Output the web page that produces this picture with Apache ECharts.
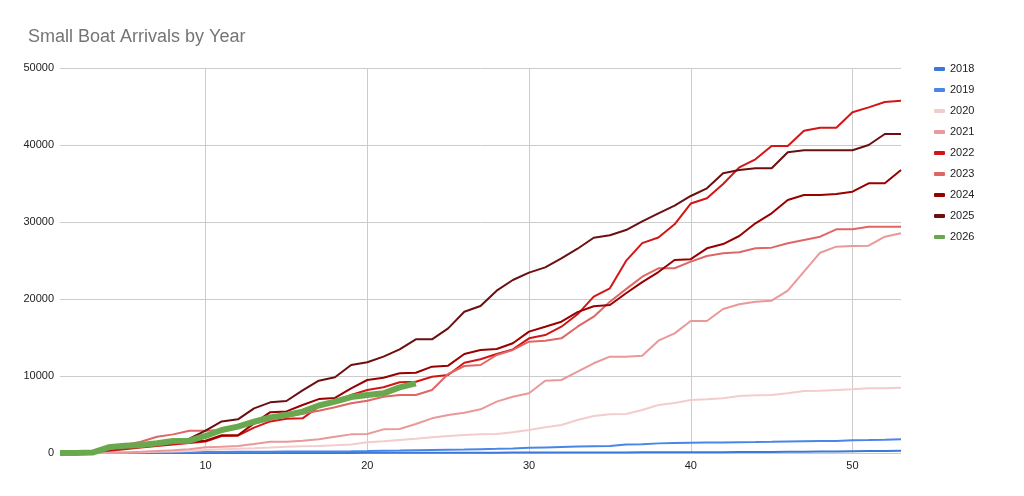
<!DOCTYPE html>
<html>
<head>
<meta charset="utf-8">
<title>Small Boat Arrivals by Year</title>
<script src="https://cdn.jsdelivr.net/npm/echarts@6/dist/echarts.min.js"></script>
<style>
    html, body { margin: 0; padding: 0; background: #fff; }
    #chart { width: 1024px; height: 496px; }
</style>
</head>
<body>
<div id="chart"></div>
<script>
// week numbers (x axis)
var weeks = [1, 2, 3, 4, 5, 6, 7, 8, 9, 10, 11, 12, 13, 14, 15, 16, 17, 18, 19, 20,
    21, 22, 23, 24, 25, 26, 27, 28, 29, 30, 31, 32, 33, 34, 35, 36, 37, 38, 39, 40,
    41, 42, 43, 44, 45, 46, 47, 48, 49, 50, 51, 52, 53];

// cumulative arrivals per year
var y2018 = [0, 0, 0, 0, 0, 0, 0, 0, 0, 0, 0, 0, 0, 10, 10, 10, 10, 15, 15, 20,
    20, 25, 25, 30, 30, 35, 40, 45, 50, 55, 60, 60, 65, 70, 75, 80, 85, 90, 95, 100,
    105, 110, 115, 120, 130, 150, 170, 190, 210, 230, 255, 275, 300];
var y2019 = [0, 0, 20, 30, 40, 50, 70, 80, 100, 120, 140, 150, 160, 170, 180, 190, 200, 210, 230, 260,
    300, 320, 360, 400, 430, 460, 500, 540, 600, 670, 730, 790, 830, 870, 900, 1100, 1150, 1250, 1300, 1330,
    1350, 1370, 1400, 1420, 1450, 1500, 1530, 1550, 1570, 1650, 1680, 1730, 1800];
var y2020 = [0, 0, 0, 20, 50, 100, 150, 200, 260, 380, 480, 550, 610, 700, 820, 870, 910, 1000, 1100, 1390,
    1520, 1690, 1860, 2040, 2210, 2340, 2420, 2470, 2690, 2990, 3330, 3640, 4290, 4810, 5020, 5060, 5580, 6230, 6500, 6880,
    6970, 7100, 7400, 7490, 7530, 7750, 8050, 8100, 8180, 8270, 8400, 8420, 8470];
var y2021 = [0, 0, 20, 50, 80, 150, 250, 350, 480, 740, 820, 910, 1170, 1470, 1470, 1600, 1780, 2120, 2420, 2470,
    3070, 3120, 3770, 4500, 4940, 5240, 5670, 6670, 7310, 7750, 9390, 9480, 10560, 11650, 12510, 12510, 12640, 14590, 15540, 17140,
    17140, 18700, 19310, 19650, 19780, 21080, 23550, 26010, 26800, 26880, 26930, 28090, 28530];
var y2022 = [0, 50, 150, 300, 500, 700, 900, 1100, 1300, 1500, 2200, 2250, 3300, 4100, 4450, 4500, 6000, 6700, 7530, 8180,
    8530, 9180, 9260, 9910, 10130, 11730, 12170, 12860, 13460, 14890, 15320, 16400, 18010, 20300, 21390, 24950, 27250, 27980, 29700, 32400,
    33080, 34940, 37100, 38140, 39870, 39870, 41860, 42250, 42250, 44250, 44890, 45580, 45750];
var y2023 = [0, 0, 100, 390, 1040, 1470, 2120, 2420, 2900, 2900, 3000, 3300, 3800, 4300, 4700, 5100, 5500, 5950, 6450, 6790,
    7310, 7530, 7530, 8180, 10260, 11300, 11430, 12730, 13380, 14460, 14590, 14890, 16400, 17700, 19650, 21280, 22900, 23980, 24000, 24850,
    25580, 25930, 26060, 26580, 26670, 27230, 27660, 28090, 29050, 29050, 29390, 29390, 29390];
var y2024 = [0, 0, 50, 400, 700, 900, 1100, 1300, 1450, 1600, 2300, 2300, 3850, 5300, 5400, 6230, 7000, 7150, 8400, 9480,
    9780, 10350, 10430, 11210, 11340, 12860, 13380, 13510, 14250, 15760, 16400, 17050, 18300, 19050, 19220, 20740, 22200, 23500, 25070, 25170,
    26580, 27140, 28180, 29830, 31130, 32860, 33510, 33510, 33640, 33940, 35030, 35030, 36750];
var y2025 = [0, 0, 50, 600, 900, 1100, 1300, 1600, 1850, 2900, 4100, 4370, 5800, 6580, 6750, 8130, 9390, 9830, 11430, 11780,
    12510, 13460, 14760, 14760, 16190, 18350, 19090, 21080, 22470, 23420, 24110, 25280, 26530, 27960, 28270, 28960, 30080, 31130, 32120, 33380,
    34370, 36320, 36750, 36970, 36970, 39050, 39310, 39310, 39310, 39310, 40000, 41430, 41430];
var y2026 = [0, 0, 50, 740, 950, 1040, 1260, 1560, 1600, 2210, 2990, 3420, 4070, 4630, 4940, 5370, 6170, 6670, 7270, 7530,
    7750, 8530, 9050];

var yearNames = ['2018', '2019', '2020', '2021', '2022', '2023', '2024', '2025', '2026'];
var yearData = [y2018, y2019, y2020, y2021, y2022, y2023, y2024, y2025, y2026];
var yearColors = ['#3c78d8', '#4a86e8', '#f4cccc', '#ea9999', '#d41515', '#e06666', '#990000', '#6b1010', '#6aa84f'];

var yTicks = { min: 0, max: 50000, interval: 10000 };

var chart_ff = 'Arial, "Liberation Sans", sans-serif';

function everyTenth(index, value) {
    return Number(value) % 10 === 0;
}

var myChart = echarts.init(document.getElementById('chart'), null, { renderer: 'canvas' });

var series = [];
for (var i = 0; i < yearNames.length; i++) {
    series.push({
        name: yearNames[i],
        type: 'line',
        data: yearData[i],
        symbol: 'none',
        smooth: false,
        lineStyle: { color: yearColors[i], width: yearNames[i] == '2026' ? 6 : 2 },
        itemStyle: { color: yearColors[i] },
        emphasis: { disabled: true },
        z: 2 + i
    });
}

var option = {
    animation: false,
    backgroundColor: '#fff',
    title: {
        text: 'Small Boat Arrivals by Year',
        left: 23,
        top: 23,
        textStyle: { color: '#757575', fontSize: 18, fontWeight: 'normal', fontFamily: chart_ff }
    },
    legend: {
        orient: 'vertical',
        left: 929,
        top: 57,
        itemWidth: 11,
        itemHeight: 4,
        itemGap: 7,
        icon: 'roundRect',
        selectedMode: false,
        data: yearNames,
        textStyle: { color: '#222', fontSize: 11, lineHeight: 14, fontFamily: chart_ff }
    },
    grid: { left: 60, right: 123, top: 68, bottom: 43, containLabel: false },
    xAxis: {
        type: 'category',
        data: weeks,
        boundaryGap: false,
        axisLine: { show: false },
        axisTick: { show: false },
        axisLabel: {
            interval: everyTenth,
            color: '#222',
            fontSize: 11,
            margin: 7,
            fontFamily: chart_ff
        },
        splitLine: {
            show: true,
            interval: everyTenth,
            lineStyle: { color: '#cccccc', width: 1 }
        }
    },
    yAxis: {
        type: 'value',
        min: yTicks.min,
        max: yTicks.max,
        interval: yTicks.interval,
        axisLine: { show: false },
        axisTick: { show: false },
        axisLabel: {
            color: '#222',
            fontSize: 11,
            margin: 6,
            fontFamily: chart_ff,
            formatter: function (v) { return String(v); }
        },
        splitLine: { lineStyle: { color: '#cccccc', width: 1 } }
    },
    series: series
};

myChart.setOption(option);
</script>
</body>
</html>
